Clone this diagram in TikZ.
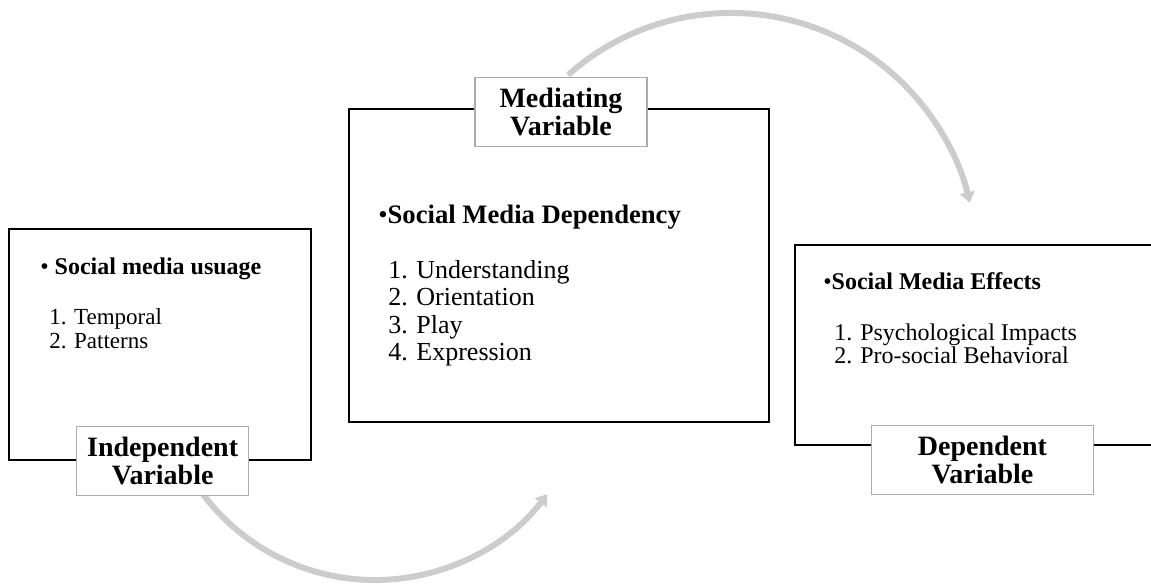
\documentclass[tikz,border=0pt]{standalone}
\usepackage{fontspec}
\setmainfont{Liberation Serif}
\usetikzlibrary{arrows.meta}
\usepackage{xcolor}
\definecolor{flowgray}{HTML}{CCCCCC}
\newcommand{\fsz}[2]{\fontsize{#1}{#2}\selectfont}

\begin{document}
\begin{tikzpicture}[
      x=0.75pt, y=-0.75pt,
      varbox/.style={draw=black,line width=0.9pt,fill=white,inner sep=0pt},
      tag/.style={draw=gray!65,line width=0.9pt,fill=white,align=center,minimum width=129pt,minimum height=51.75pt,inner sep=2pt,font=\bfseries\fsz{21}{21}},
      head/.style={anchor=base west,inner sep=0pt},
      items/.style={anchor=north west,align=left,inner sep=0pt},
      flow/.style={-{Triangle[length=8pt,width=11pt]},flowgray,line width=4.5pt}
    ]
      \clip (0,0) rectangle (1151,586);

      % curved arrows behind the boxes
      \coordinate (upstart) at (568,75);
      \coordinate (lowstart) at (202,493);
      \draw[flow] (upstart) arc[start angle=-131.7,end angle=-13,radius=245];
      \draw[flow] (lowstart) arc[start angle=143.4,end angle=37,radius=215.5];

      % three variable boxes
      \node[varbox,minimum width=226.5pt,minimum height=173.25pt] (indep) at (160,344.5) {};
      \node[varbox,minimum width=315pt,minimum height=234.75pt] (med) at (559,265.5) {};
      \node[varbox,minimum width=281.25pt,minimum height=150pt] (dep) at (982.5,345) {};

      % box contents
      \node[head,font=\bfseries\fsz{18}{18}] (usage) at (40,274) {{\mdseries\textbullet} Social media usuage};
      \node[items,font=\fsz{17.25}{18}] (usagelist) at (49,308) {1. Temporal\\2. Patterns};

      \node[head,font=\bfseries\fsz{20}{20}] (depend) at (378,223) {{\mdseries\textbullet}Social Media Dependency};
      \node[items,font=\fsz{19.5}{20.6}] (dependlist) at (388,260) {1. Understanding\\2. Orientation\\3. Play\\4. Expression};

      \node[head,font=\bfseries\fsz{18}{18}] (effects) at (823,289) {{\mdseries\textbullet}Social Media Effects};
      \node[items,font=\fsz{18}{17.25}] (effectslist) at (834,323.5) {1. Psychological Impacts\\2. Pro-social Behavioral};

      % variable tags on the box edges
      \node[tag] (indeptag) at ([xshift=2pt]indep.south) {Independent\\Variable};
      \node[tag] (medtag) at ([xshift=1.5pt,yshift=-2.6pt]med.north) {Mediating\\Variable};
      \node[tag,minimum width=166.5pt] (deptag) at ([yshift=-10.9pt]dep.south) {Dependent\\Variable};
    \end{tikzpicture}
\end{document}
